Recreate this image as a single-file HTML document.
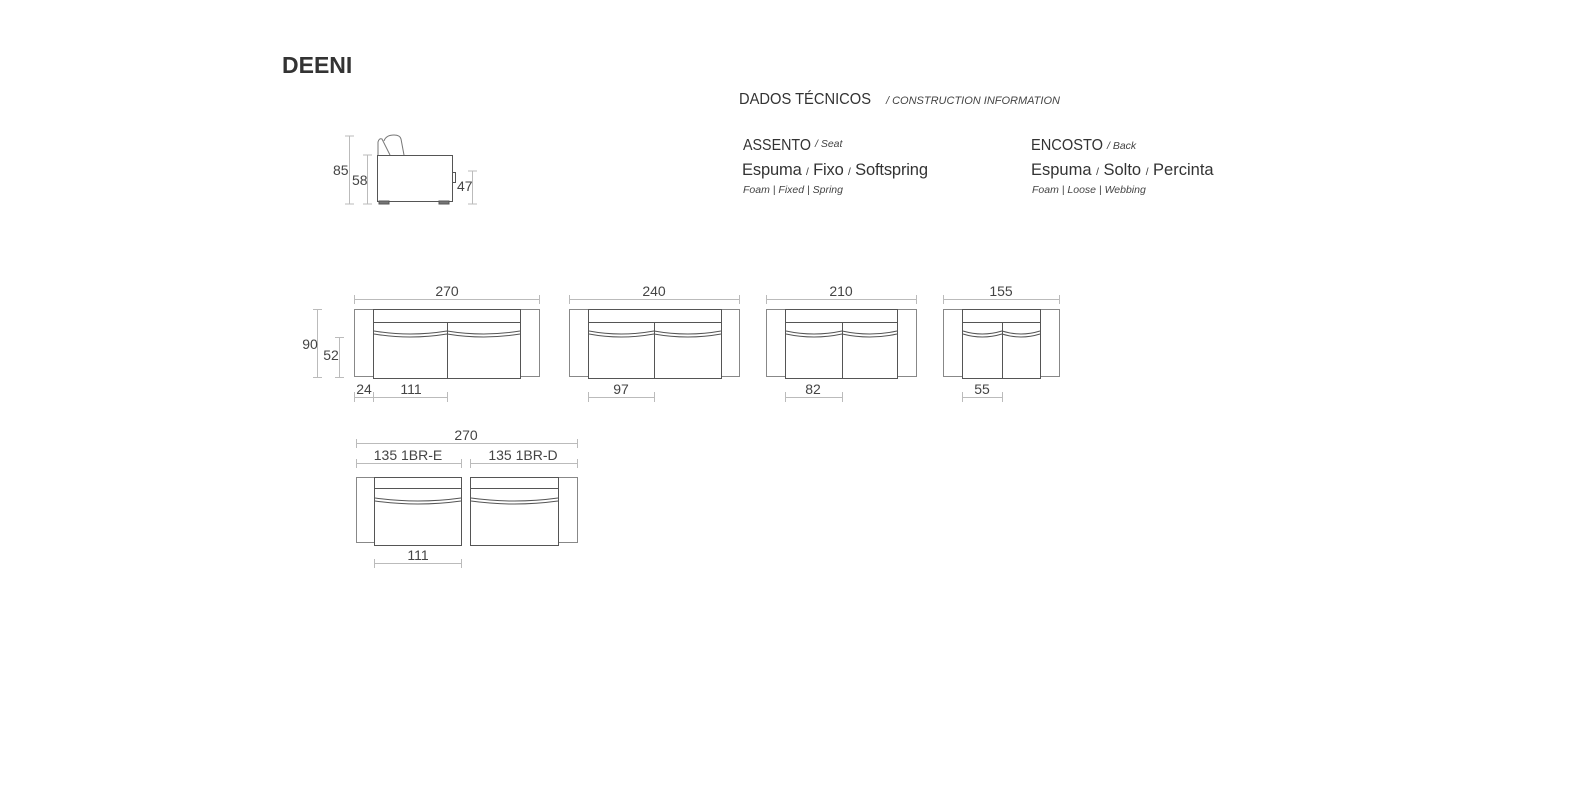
<!DOCTYPE html>
<html><head><meta charset="utf-8"><style>
html,body{margin:0;padding:0;background:#fff;}
svg{display:block}
</style></head><body>
<svg width="1585" height="800" viewBox="0 0 1585 800" xmlns="http://www.w3.org/2000/svg" font-family="Liberation Sans, Arial, sans-serif">
<rect width="1585" height="800" fill="#fff"/>
<text x="282" y="73" font-size="23" font-weight="bold" fill="#333">DEENI</text>
<text x="739" y="104" font-size="16" fill="#333" textLength="132" lengthAdjust="spacingAndGlyphs">DADOS TÉCNICOS</text>
<text x="886" y="104" font-size="11" font-style="italic" fill="#444">/ CONSTRUCTION INFORMATION</text>
<text x="743" y="150" font-size="16" fill="#333" textLength="68" lengthAdjust="spacingAndGlyphs">ASSENTO</text>
<text x="815" y="147" font-size="10.5" font-style="italic" fill="#444">/ Seat</text>
<text x="742" y="175" font-size="16.5" fill="#333" textLength="186">Espuma <tspan font-size="10">  /</tspan> Fixo <tspan font-size="10">/</tspan> Softspring</text>
<text x="743" y="193" font-size="10.5" font-style="italic" fill="#444">Foam | Fixed  | Spring</text>
<text x="1031" y="150" font-size="16" fill="#333" textLength="72" lengthAdjust="spacingAndGlyphs">ENCOSTO</text>
<text x="1107" y="149" font-size="10.5" font-style="italic" fill="#444">/ Back</text>
<text x="1031" y="175" font-size="16.5" fill="#333">Espuma <tspan font-size="10">  /</tspan> Solto <tspan font-size="10">/</tspan> Percinta</text>
<text x="1032" y="193" font-size="10.5" font-style="italic" fill="#444">Foam | Loose   | Webbing</text>

<g fill="none" stroke="#555" stroke-width="1">
<rect x="377.5" y="155.5" width="75" height="46"/>
<path d="M378 155 L378 142 Q379 138 382 139 L390 155" stroke="#777"/>
<path d="M384 141 Q386 135 394 135 Q400 135 401 139 L404 155" stroke="#777"/>
<rect x="452.5" y="172.5" width="3" height="10"/>
<rect x="379" y="201" width="10" height="3" fill="#777"/>
<rect x="439" y="201" width="10" height="3" fill="#777"/>
</g>
<g stroke="#bbb" stroke-width="1" fill="none">
<path d="M349.5 136 V204 M345 136 H354 M345 204 H354"/>
<path d="M367.5 155 V204 M363 155 H372 M363 204 H372"/>
<path d="M472.5 171 V204 M468 171 H477 M468 204 H477"/>
</g>
<g font-size="14" fill="#444">
<text x="333" y="175">85</text><text x="352" y="185">58</text><text x="457" y="191">47</text>
</g>

<g>
<rect x="354.5" y="309.5" width="19" height="67" fill="none" stroke="#888"/>
<rect x="520.5" y="309.5" width="19" height="67" fill="none" stroke="#888"/>
<rect x="373.5" y="309.5" width="147" height="69" fill="none" stroke="#555"/>
<path d="M373.5 322.5 H520.5 M447.5 322 V378.5" stroke="#555" fill="none"/>
<path d="M374 331 Q410 337 447 331 Q484 337 520 331 M374 334 Q410 340 447 334 Q484 340 520 334" stroke="#555" fill="none"/>
</g>
<g>
<rect x="569.5" y="309.5" width="19" height="67" fill="none" stroke="#888"/>
<rect x="721.5" y="309.5" width="18" height="67" fill="none" stroke="#888"/>
<rect x="588.5" y="309.5" width="133" height="69" fill="none" stroke="#555"/>
<path d="M588.5 322.5 H721.5 M654.5 322 V378.5" stroke="#555" fill="none"/>
<path d="M589 331 Q621 337 654 331 Q688 337 721 331 M589 334 Q621 340 654 334 Q688 340 721 334" stroke="#555" fill="none"/>
</g>
<g>
<rect x="766.5" y="309.5" width="19" height="67" fill="none" stroke="#888"/>
<rect x="897.5" y="309.5" width="19" height="67" fill="none" stroke="#888"/>
<rect x="785.5" y="309.5" width="112" height="69" fill="none" stroke="#555"/>
<path d="M785.5 322.5 H897.5 M842.5 322 V378.5" stroke="#555" fill="none"/>
<path d="M786 331 Q814 337 842 331 Q870 337 897 331 M786 334 Q814 340 842 334 Q870 340 897 334" stroke="#555" fill="none"/>
</g>
<g>
<rect x="943.5" y="309.5" width="19" height="67" fill="none" stroke="#888"/>
<rect x="1040.5" y="309.5" width="19" height="67" fill="none" stroke="#888"/>
<rect x="962.5" y="309.5" width="78" height="69" fill="none" stroke="#555"/>
<path d="M962.5 322.5 H1040.5 M1002.5 322 V378.5" stroke="#555" fill="none"/>
<path d="M963 331 Q982 337 1002 331 Q1021 337 1040 331 M963 334 Q982 340 1002 334 Q1021 340 1040 334" stroke="#555" fill="none"/>
</g>

<g stroke="#bbb" stroke-width="1" fill="none">
<path d="M354 299.5 H539 M354.5 295 V304 M539.5 295 V304"/>
<path d="M569 299.5 H739 M569.5 295 V304 M739.5 295 V304"/>
<path d="M766 299.5 H916 M766.5 295 V304 M916.5 295 V304"/>
<path d="M943 299.5 H1059 M943.5 295 V304 M1059.5 295 V304"/>
<path d="M317.5 309 V377 M313 309.5 H322 M313 377.5 H322"/>
<path d="M339.5 337 V377 M335 337.5 H344 M335 377.5 H344"/>
<path d="M354 397.5 H447 M354.5 392 V402 M373.5 392 V402 M447.5 392 V402"/>
<path d="M588 397.5 H654 M588.5 392 V402 M654.5 392 V402"/>
<path d="M785 397.5 H842 M785.5 392 V402 M842.5 392 V402"/>
<path d="M962 397.5 H1002 M962.5 392 V402 M1002.5 392 V402"/>
<path d="M356 443.5 H577 M356.5 439 V448 M577.5 439 V448"/>
<path d="M356 463.5 H461 M356.5 459 V468 M461.5 459 V468"/>
<path d="M470 463.5 H577 M470.5 459 V468 M577.5 459 V468"/>
<path d="M374 563.5 H461 M374.5 559 V568 M461.5 559 V568"/>
</g>
<g font-size="14" fill="#444" text-anchor="middle">
<text x="447" y="296">270</text>
<text x="654" y="296">240</text>
<text x="841" y="296">210</text>
<text x="1001" y="296">155</text>
<text x="310" y="349">90</text>
<text x="331" y="360">52</text>
<text x="364" y="394">24</text>
<text x="411" y="394">111</text>
<text x="621" y="394">97</text>
<text x="813" y="394">82</text>
<text x="982" y="394">55</text>
<text x="466" y="440">270</text>
<text x="408" y="460">135 1BR-E</text>
<text x="523" y="460">135 1BR-D</text>
<text x="418" y="560">111</text>
</g>

<g fill="none">
<rect x="356.5" y="477.5" width="18" height="65" stroke="#888"/>
<rect x="374.5" y="477.5" width="87" height="68" stroke="#555"/>
<path d="M374.5 488.5 H461.5 M375 498 Q418 504 461 498 M375 501 Q418 507 461 501" stroke="#555"/>
<rect x="558.5" y="477.5" width="19" height="65" stroke="#888"/>
<rect x="470.5" y="477.5" width="88" height="68" stroke="#555"/>
<path d="M470.5 488.5 H558.5 M471 498 Q514 504 558 498 M471 501 Q514 507 558 501" stroke="#555"/>
</g>
</svg>
</body></html>
